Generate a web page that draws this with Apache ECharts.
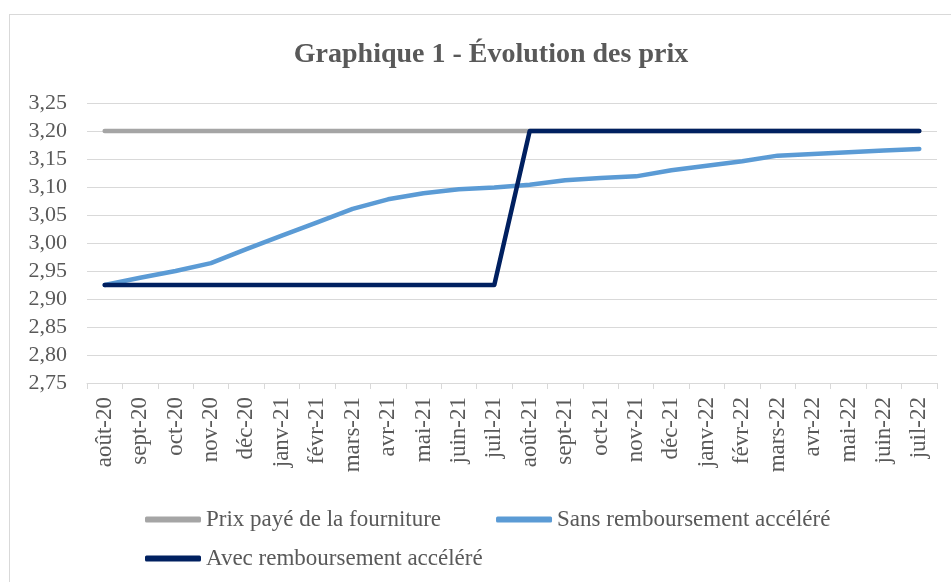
<!DOCTYPE html>
<html>
<head>
<meta charset="utf-8">
<script src="https://cdn.jsdelivr.net/npm/echarts@6/dist/echarts.min.js"></script>
<style>
    html, body { margin: 0; padding: 0; background: #fff; }
    #frame { position: absolute; left: 9px; top: 14px; width: 960px; height: 600px; border: 1px solid #d9d9d9; box-sizing: border-box; }
    #chart { position: absolute; left: 0; top: 0; width: 951px; height: 582px; }
</style>
</head>
<body>
<div id="frame"></div>
<div id="chart"></div>
<script>
// mois (août 2020 -> juillet 2022)
const months = ["août-20", "sept-20", "oct-20", "nov-20", "déc-20", "janv-21", "févr-21", "mars-21",
    "avr-21", "mai-21", "juin-21", "juil-21", "août-21", "sept-21", "oct-21", "nov-21", "déc-21",
    "janv-22", "févr-22", "mars-22", "avr-22", "mai-22", "juin-22", "juil-22"];

const prixPaye = [3.20, 3.20, 3.20, 3.20, 3.20, 3.20, 3.20, 3.20, 3.20, 3.20, 3.20, 3.20,
    3.20, 3.20, 3.20, 3.20, 3.20, 3.20, 3.20, 3.20, 3.20, 3.20, 3.20, 3.20];

const sansRemb = [2.925, 2.938, 2.950, 2.964, 2.989, 3.013, 3.037, 3.061, 3.078, 3.089, 3.096, 3.099,
    3.104, 3.112, 3.116, 3.119, 3.130, 3.138, 3.146, 3.156, 3.159, 3.162, 3.165, 3.168];

const avecRemb = [2.925, 2.925, 2.925, 2.925, 2.925, 2.925, 2.925, 2.925, 2.925, 2.925, 2.925, 2.925,
    3.20, 3.20, 3.20, 3.20, 3.20, 3.20, 3.20, 3.20, 3.20, 3.20, 3.20, 3.20];

const names = ["Prix payé de la fourniture", "Sans remboursement accéléré", "Avec remboursement accéléré"];

const font = "'Liberation Serif', 'Times New Roman', serif";
const textColor = '#595959';

const chart = echarts.init(document.getElementById("chart"), null, {renderer: 'canvas'});

const lineSerie = (name, data, color) => ({
    name: name,
    type: 'line',
    data: data,
    symbol: 'none',
    lineStyle: {width: 4.5, color: color, cap: 'round', join: 'round'},
    itemStyle: {color: color},
})

const legendBase = {
    itemWidth: 56,
    itemHeight: 6,
    itemGap: 55,
    icon: 'roundRect',
    textStyle: {fontFamily: font, fontSize: 23, color: textColor},
}

const option = {
    animation: false,
    title: {
        text: 'Graphique 1 - Évolution des prix',
        left: 486,
        top: 36,
        textAlign: 'center',
        textStyle: {fontFamily: font, fontSize: 28, fontWeight: 'bold', color: textColor},
    },
    grid: {left: 87, right: 14, top: 103, bottom: 199, containLabel: false},
    legend: [
        Object.assign({data: [names[0], names[1]], left: 140, top: 503}, legendBase),
        Object.assign({data: [names[2]], left: 140, top: 542}, legendBase),
    ],
    xAxis: {
        type: 'category',
        data: months,
        boundaryGap: true,
        axisLine: {show: true, lineStyle: {color: '#d9d9d9', width: 1}},
        axisTick: {show: true, length: 6, lineStyle: {color: '#d9d9d9'}},
        axisLabel: {
            rotate: 90,
            interval: 0,
            margin: 14,
            fontFamily: font,
            fontSize: 23,
            color: textColor,
        },
    },
    yAxis: {
        type: 'value',
        min: 2.75,
        max: 3.25,
        interval: 0.05,
        axisLine: {show: false},
        axisTick: {show: false},
        splitLine: {lineStyle: {color: '#d9d9d9', width: 1}},
        axisLabel: {
            margin: 20,
            fontFamily: font,
            fontSize: 22,
            color: textColor,
            formatter: v => v.toFixed(2).replace('.', ','),
        },
    },
    series: [
        lineSerie(names[0], prixPaye, '#a5a5a5'),
        lineSerie(names[1], sansRemb, '#5b9bd5'),
        lineSerie(names[2], avecRemb, '#002060'),
    ],
};

chart.setOption(option);
</script>
</body>
</html>
